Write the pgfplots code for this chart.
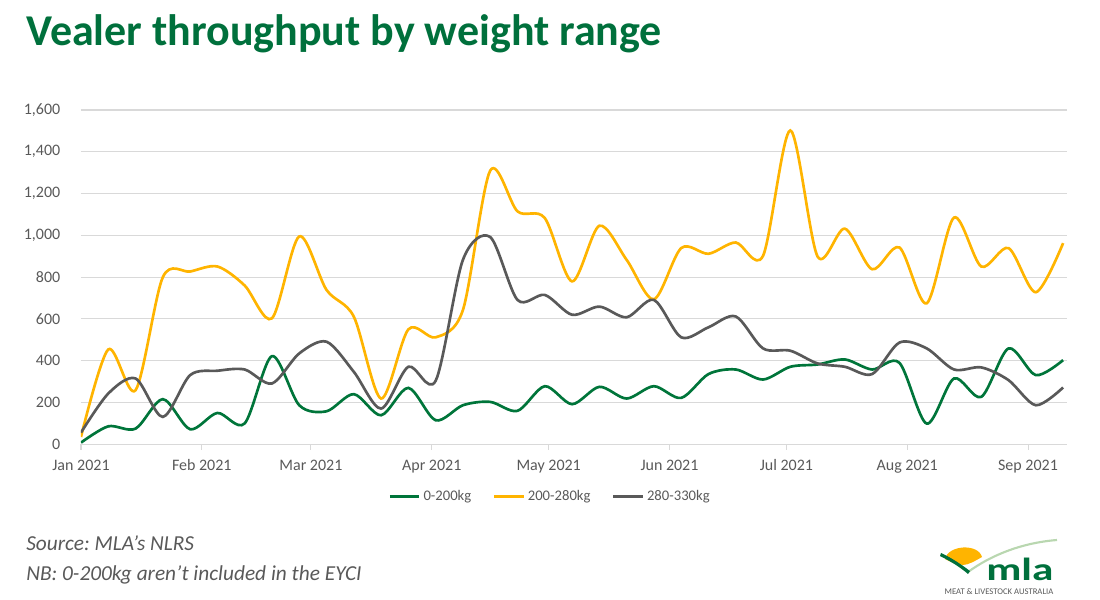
\documentclass[border=0pt]{standalone}
\usepackage{fontspec}
\setmainfont{Carlito}
\usepackage{pgfplots}
\pgfplotsset{compat=1.18}
\usepackage{pgfplotstable}
\definecolor{mlagreen}{HTML}{00703C}
\definecolor{linegreen}{HTML}{00753A}
\definecolor{mlayellow}{HTML}{FFB400}
\definecolor{mlagray}{HTML}{595959}
\definecolor{txtgray}{HTML}{595959}
\definecolor{gridgray}{HTML}{D9D9D9}
\definecolor{swoosh}{HTML}{B9D7B0}
\frenchspacing

\pgfplotstableread{
day low mid high
0 8 35 56
7 86 454 243
14 75 259 315
21 216 800 131
28 72 827 331
35 150 851 352
42 100 760 358
49 422 603 291
56 187 995 435
63 158 739 491
70 240 611 347
77 139 219 171
84 270 550 371
91 115 512 304
98 187 643 883
105 203 1310 992
112 160 1115 691
119 278 1083 715
126 192 780 620
133 275 1046 659
140 219 883 608
147 278 694 691
154 222 939 512
161 336 912 560
168 358 966 612
175 310 902 459
182 371 1502 448
189 382 899 387
196 406 1032 371
203 358 838 336
210 390 942 487
217 99 675 459
224 315 1085 358
231 227 851 368
238 459 939 307
245 331 728 187
252 403 963 272
}\data

\begin{document}
\begin{tikzpicture}
\path[use as bounding box] (0,0) rectangle (825pt,450pt);
\begin{axis}[
  at={(60.75pt,116.78pt)}, anchor=south west,
  scale only axis, width=739.5pt, height=250.7pt,
  xmin=0, xmax=253, ymin=0, ymax=1600,
  xtick={0,31,59,90,120,151,181,212,243},
  xticklabels={Jan 2021,Feb 2021,Mar 2021,Apr 2021,May 2021,Jun 2021,Jul 2021,Aug 2021,Sep 2021},
  ytick={0,200,...,1600},
  ymajorgrids, grid style={gridgray, line width=0.8pt},
  axis lines*=left,
  x axis line style={gridgray, line width=0.8pt},
  y axis line style={draw=none},
  ytick style={draw=none},
  xtick style={gridgray, line width=0.8pt},
  tick align=outside, major tick length=4pt,
  ticklabel style={font=\fontsize{12}{14}\selectfont, text=txtgray},
  /pgf/number format/assume math mode=true,
  /pgf/number format/1000 sep={,},
  scaled y ticks=false,
  yticklabel style={xshift=-8pt},
  xticklabel style={yshift=-4pt},
  legend style={at={(0.476,-0.155)}, anchor=center, draw=none, fill=none,
    legend columns=-1, font=\fontsize{11}{13}\selectfont, text=txtgray,
    /tikz/every even column/.append style={column sep=14pt}},
  legend image code/.code={\draw[#1, line width=2.4pt] (0pt,0pt) -- (22pt,0pt);},
]
\addplot[linegreen, line width=2pt, smooth] table[x=day,y=low]{\data};
\addplot[mlayellow, line width=2pt, smooth] table[x=day,y=mid]{\data};
\addplot[mlagray, line width=2pt, smooth] table[x=day,y=high]{\data};
\legend{0-200kg,200-280kg,280-330kg}
\end{axis}
\begin{scope}[x=0.75pt,y=-0.75pt,yshift=450pt]
  \node[anchor=base west, inner sep=0pt, text=mlagreen, font=\fontsize{33}{39}\selectfont\bfseries] at (26,46) {Vealer throughput by weight range};
  \node[anchor=base west, inner sep=0pt, text=txtgray, font=\fontsize{16}{19}\selectfont\itshape] at (26,551) {Source: MLA’s NLRS};
  \node[anchor=base west, inner sep=0pt, text=txtgray, font=\fontsize{16}{19}\selectfont\itshape] at (26,580) {NB: 0-200kg aren’t included in the EYCI};
  % logo
  \fill[mlayellow] (945,559) .. controls (948,545) and (978,543) .. (982,557) .. controls (975,561) and (968,565) .. (963,565) .. controls (956,564) and (950,562) .. (945,559) -- cycle;
  \draw[swoosh, line width=1.6pt] (968,572) .. controls (990,556) and (1020,543) .. (1057,540);
  \fill[mlagreen] (940,556) .. controls (950,561) and (960,567) .. (968,574) -- (970,571) .. controls (962,565) and (952,558) .. (941,553) -- cycle;
  \node[anchor=base west, inner sep=0pt, text=mlagreen, font=\fontsize{24}{28}\selectfont\bfseries, xscale=1.35] at (986,581) {mla};
  \node[anchor=center, inner sep=0pt, text=txtgray, font=\fontsize{6.5}{8}\selectfont] at (999,592) {MEAT \& LIVESTOCK AUSTRALIA};
\end{scope}
\end{tikzpicture}
\end{document}
